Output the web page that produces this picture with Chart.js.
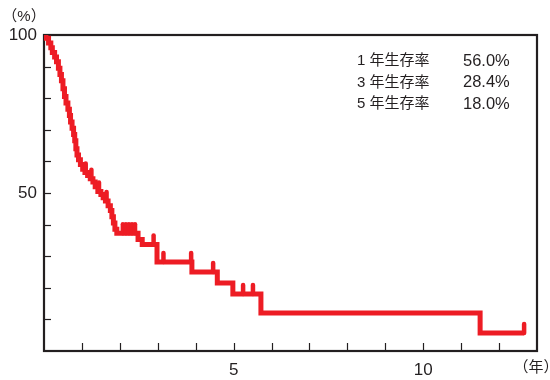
<!DOCTYPE html>
<html>
<head>
<meta charset="utf-8">
<script src="https://cdn.jsdelivr.net/npm/chart.js@4"></script>
<style>
  html, body { margin: 0; padding: 0; background: #fff; }
  #wrap { width: 550px; height: 380px; position: relative; }
</style>
</head>
<body>
<div id="wrap"><canvas id="survChart"></canvas></div>
<script>
// ── DATA ─────────────────────────────────────────────
// Kaplan-Meier step points: time (years) and survival (%) after each drop
const survTimes = [
  0, 0.05, 0.12, 0.18, 0.22, 0.28, 0.33, 0.38, 0.42, 0.46, 0.50, 0.54, 0.58,
  0.63, 0.67, 0.70, 0.74, 0.78, 0.81, 0.84, 0.87, 0.91, 0.96, 1.02, 1.08,
  1.15, 1.22, 1.29, 1.35, 1.42, 1.50, 1.56, 1.62, 1.69, 1.75, 1.79, 1.83,
  1.87, 1.92, 2.48, 2.59, 2.98, 3.90, 4.57, 4.98, 5.72, 11.50, 12.66
];
const survValues = [
  100, 99, 97.5, 96, 94.5, 93, 91.5, 89.5, 87.5, 85.5, 83, 80.5, 78.5,
  76.5, 74.5, 72.5, 70.5, 68.5, 66.5, 64, 62, 60.5, 59, 57.5, 56.5,
  55.5, 54.5, 53.5, 52, 50.5, 49.5, 48.5, 47.5, 46, 44.5, 42.5, 40.5,
  38.5, 37.3, 35.3, 33.7, 28.2, 25.0, 21.5, 18.0, 12.0, 5.7, 5.7
];

// censored cases (tick marks on the curve)
const censorTimes  = [1.10, 1.25, 1.45, 1.65, 2.08, 2.16, 2.24, 2.32, 2.40, 2.89, 3.15, 3.88, 4.46, 5.25, 5.51, 12.66];
const censorValues = [56.5, 54.5, 50.5, 47.5, 37.3, 37.3, 37.3, 37.3, 37.3, 33.7, 28.2, 28.2, 25.0, 18.0, 18.0, 5.7];

const xLabelTicks = [5, 10];
const yLabelTicks = [50, 100];

const rateLabels = ['1 年生存率', '3 年生存率', '5 年生存率'];
const rateValues = ['56.0%', '28.4%', '18.0%'];

const INK = '#231f20';
const RED = '#ed1c24';
const FONT = "'Liberation Sans', 'Noto Sans CJK JP', sans-serif";

// ── PLUGIN: frame, inward ticks, censor marks, extra text ──
const decor = {
  id: 'decor',
  beforeDatasetsDraw(chart) {
    const { ctx, chartArea: a, scales: { x, y } } = chart;
    ctx.save();
    ctx.strokeStyle = INK;
    ctx.lineWidth = 1.2;
    // inward ticks
    x.ticks.forEach(t => {
      if (t.value <= x.min || t.value >= x.max) return;
      const px = Math.round(x.getPixelForValue(t.value)) + 0.5;
      ctx.beginPath(); ctx.moveTo(px, a.bottom); ctx.lineTo(px, a.bottom - 8); ctx.stroke();
    });
    y.ticks.forEach(t => {
      if (t.value <= y.min || t.value >= y.max) return;
      const py = Math.round(y.getPixelForValue(t.value)) + 0.5;
      ctx.beginPath(); ctx.moveTo(a.left, py); ctx.lineTo(a.left + 7, py); ctx.stroke();
    });
    // frame
    ctx.lineWidth = 2.2;
    ctx.strokeRect(a.left, a.top, a.right - a.left, a.bottom - a.top);
    ctx.restore();
  },
  afterDatasetsDraw(chart) {
    const { ctx, scales: { x, y } } = chart;
    ctx.save();
    ctx.strokeStyle = RED;
    ctx.lineWidth = 4.5;
    ctx.lineCap = 'round';
    censorTimes.forEach((t, i) => {
      const px = x.getPixelForValue(t);
      const py = y.getPixelForValue(censorValues[i]);
      ctx.beginPath(); ctx.moveTo(px, py); ctx.lineTo(px, py - 9); ctx.stroke();
    });
    ctx.restore();
  },
  afterDraw(chart) {
    const { ctx } = chart;
    ctx.save();
    ctx.fillStyle = INK;
    ctx.textBaseline = 'middle';
    ctx.font = '15px ' + FONT;
    ctx.textAlign = 'center';
    ctx.fillText('（%）', 24, 17);
    ctx.fillText('（年）', 536, 368);
    ctx.textAlign = 'left';
    rateLabels.forEach((lab, i) => {
      const ty = 61 + i * 21.5;
      ctx.font = '15px ' + FONT;
      ctx.fillText(lab, 357, ty);
      ctx.font = '16.5px ' + FONT;
      ctx.fillText(rateValues[i], 463, ty);
    });
    ctx.restore();
  }
};

new Chart(document.getElementById('survChart'), {
  type: 'line',
  data: {
    datasets: [{
      data: survTimes.map((t, i) => ({ x: t, y: survValues[i] })),
      borderColor: RED,
      borderWidth: 5,
      stepped: 'before',
      pointRadius: 0,
      fill: false
    }]
  },
  options: {
    responsive: true,
    maintainAspectRatio: false,
    animation: false,
    layout: { padding: { top: 35, right: 13, left: 0, bottom: 0 } },
    plugins: { legend: { display: false }, tooltip: { enabled: false } },
    scales: {
      x: {
        type: 'linear', min: 0, max: 13,
        grid: { display: false, drawTicks: false, tickLength: 0 },
        border: { display: false },
        ticks: {
          stepSize: 1, autoSkip: false, maxRotation: 0, padding: 9,
          color: INK, font: { family: FONT, size: 17 },
          callback: v => xLabelTicks.includes(v) ? String(v) : ''
        },
        afterFit: s => { s.height = 29; }
      },
      y: {
        min: 0, max: 100,
        grid: { display: false, drawTicks: false, tickLength: 0 },
        border: { display: false },
        ticks: {
          stepSize: 10, autoSkip: false, padding: 7,
          color: INK, font: { family: FONT, size: 17 },
          callback: v => yLabelTicks.includes(v) ? String(v) : ''
        },
        afterFit: s => { s.width = 44; }
      }
    }
  },
  plugins: [decor]
});
</script>
</body>
</html>
